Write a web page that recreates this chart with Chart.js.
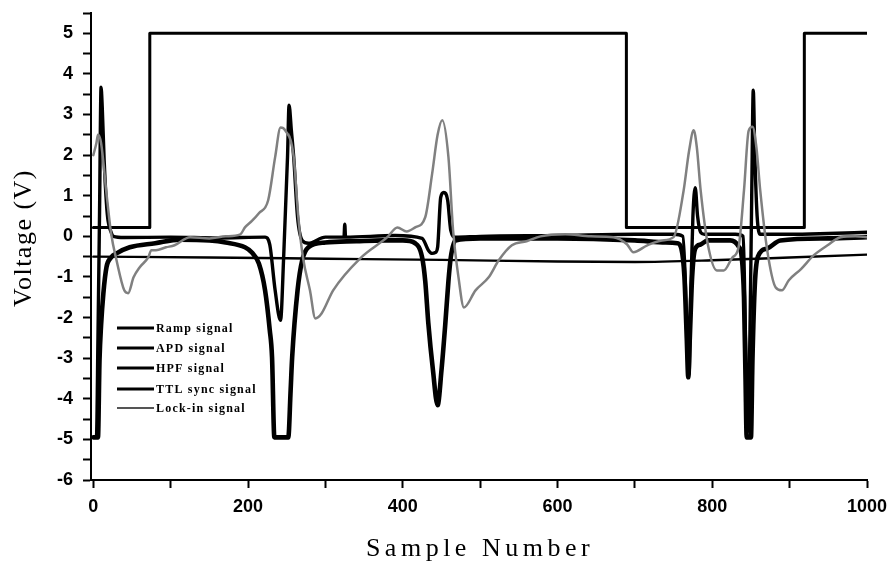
<!DOCTYPE html>
<html>
<head>
<meta charset="utf-8">
<script src="https://cdn.jsdelivr.net/npm/chart.js@4.4.1/dist/chart.umd.min.js"></script>
<style>
html,body{margin:0;padding:0;background:#fff;}
#wrap{width:890px;height:564px;position:relative;}
</style>
</head>
<body>
<div id="wrap"><canvas id="c" width="890" height="564"></canvas></div>
<script>
// ---- data ----
const seriesNames = ['Ramp signal', 'APD signal', 'HPF signal', 'TTL sync signal', 'Lock-in signal'];
const xTitle = 'Sample Number';
const yTitle = 'Voltage (V)';

const xTickValues = [0, 100, 200, 300, 400, 500, 600, 700, 800, 900, 1000];
const xTickLabels = ['0', '', '200', '', '400', '', '600', '', '800', '', '1000'];
const yTickValues = [-6, -5.5, -5, -4.5, -4, -3.5, -3, -2.5, -2, -1.5, -1, -0.5, 0, 0.5, 1, 1.5, 2, 2.5, 3, 3.5, 4, 4.5, 5, 5.5];
const yTickLabels = ['-6', '', '-5', '', '-4', '', '-3', '', '-2', '', '-1', '', '0', '', '1', '', '2', '', '3', '', '4', '', '5', ''];

const rampX = [0, 150, 300, 450, 600, 700, 800, 900, 1000];
const rampY = [-0.50, -0.52, -0.55, -0.58, -0.62, -0.63, -0.59, -0.52, -0.45];

const ttlX = [0, 73, 73, 689, 689, 919, 919, 1000];
const ttlY = [0.22, 0.22, 5, 5, 0.22, 0.22, 5, 5];

const apdX = [0, 6, 8, 10, 13, 17, 23, 30, 47, 80, 112, 150, 171, 196, 205, 214, 222, 228, 231, 234, 252, 255, 257, 264, 270, 278, 300, 340, 375, 400, 416, 425, 429, 433, 439, 445, 450, 455, 459, 462, 468, 500, 600, 700, 740, 755, 760, 764, 767, 769, 771, 774, 778, 785, 794, 823, 834, 838, 841, 843, 844.5, 850, 852, 855, 859, 871, 888, 950, 1000];
const apdY = [-4.95, -4.95, -3.05, -2.2, -1.4, -0.76, -0.52, -0.42, -0.27, -0.17, -0.08, -0.1, -0.15, -0.27, -0.4, -0.67, -1.33, -2.3, -2.98, -4.95, -4.95, -3.8, -2.98, -1.33, -0.59, -0.27, -0.15, -0.12, -0.1, -0.1, -0.17, -0.52, -1.1, -2.14, -3.3, -4.16, -3.3, -2.14, -1.1, -0.52, -0.1, -0.05, -0.05, -0.1, -0.15, -0.17, -0.3, -1.0, -2.5, -3.47, -2.5, -1.0, -0.3, -0.2, -0.1, -0.1, -0.25, -0.5, -1.5, -3.5, -4.95, -4.95, -3.0, -1.2, -0.5, -0.3, -0.1, -0.05, -0.02];

const hpfX = [0, 4, 6, 8, 10, 11.5, 14, 17, 19, 23, 26, 40, 100, 160, 222, 228, 235, 242, 246, 251, 253, 256, 259, 264, 270, 278, 300, 324, 325, 326, 390, 425, 433, 438, 442, 445, 449, 453, 458, 462, 468, 500, 600, 700, 750, 762, 765, 768, 770, 772, 775, 778, 781, 785, 790, 830, 840, 843, 846, 849, 851, 853, 855, 858, 862, 900, 950, 1000];
const hpfY = [-4.95, -4.95, -2.5, 0.5, 3.67, 3.2, 1.87, 0.8, 0.39, 0.1, 0.0, -0.03, -0.02, -0.04, -0.02, -0.2, -1.33, -2.07, -0.52, 1.95, 3.23, 2.6, 1.95, 0.47, -0.1, -0.17, -0.02, -0.02, 0.3, -0.02, 0.02, -0.05, -0.34, -0.42, -0.4, -0.27, 0.96, 1.08, 0.89, 0.15, -0.02, 0.0, 0.02, 0.05, 0.05, 0.0, -1.0, -3.0, -3.4, -1.5, 0.5, 1.2, 0.5, 0.1, 0.05, 0.05, 0.0, -2.5, -4.8, -2.0, 1.0, 3.6, 2.0, 0.5, 0.05, 0.05, 0.07, 0.1];

const lockX = [0, 4, 6, 10, 17, 23, 30, 40, 45, 52, 60, 71, 75, 81, 94, 105, 125, 150, 171, 190, 196, 205, 214, 226, 235, 242, 248, 259, 265, 271, 280, 287, 295, 310, 345, 380, 393, 405, 416, 429, 438, 445, 451, 459, 465, 472, 479, 494, 511, 524, 541, 560, 578, 610, 643, 672, 690, 698, 716, 735, 750, 763, 770, 776, 780, 785, 794, 806, 815, 826, 834, 841, 847, 852, 857, 862, 871, 882, 890, 899, 915, 931, 949, 966, 985, 1000];
const lockY = [2.0, 2.3, 2.5, 2.3, 1.06, 0.07, -0.59, -1.33, -1.40, -1.01, -0.76, -0.52, -0.34, -0.34, -0.27, -0.22, -0.02, -0.05, 0.0, 0.05, 0.22, 0.38, 0.57, 0.89, 1.95, 2.68, 2.61, 1.95, 0.47, -0.52, -1.33, -2.02, -1.90, -1.33, -0.54, -0.02, 0.22, 0.12, 0.22, 0.47, 1.55, 2.5, 2.86, 1.95, 0.15, -1.01, -1.75, -1.33, -1.01, -0.59, -0.22, -0.12, 0.0, 0.05, 0.0, -0.02, -0.2, -0.39, -0.22, -0.1, -0.02, 1.13, 2.1, 2.61, 2.2, 1.13, -0.17, -0.84, -0.84, -0.52, -0.27, 1.13, 2.6, 2.7, 2.2, 1.13, -0.34, -1.26, -1.33, -1.08, -0.8, -0.47, -0.22, -0.02, 0.0, -0.02];

// ---- build ----
const pts = (xs, ys) => xs.map((x, i) => ({x: x, y: ys[i]}));

const datasets = [
  {label: seriesNames[0], data: pts(rampX, rampY), borderColor: '#000', borderWidth: 2.4, order: 3, cubicInterpolationMode: 'monotone'},
  {label: seriesNames[1], data: pts(apdX, apdY), borderColor: '#000', borderWidth: 4.6, order: 2, cubicInterpolationMode: 'monotone'},
  {label: seriesNames[2], data: pts(hpfX, hpfY), borderColor: '#000', borderWidth: 3.4, order: 1, cubicInterpolationMode: 'monotone'},
  {label: seriesNames[3], data: pts(ttlX, ttlY), borderColor: '#000', borderWidth: 3, order: 4, tension: 0},
  {label: seriesNames[4], data: pts(lockX, lockY), borderColor: '#808080', borderWidth: 2.5, order: 0, cubicInterpolationMode: 'monotone'}
];

const legendInside = {
  id: 'legendInside',
  afterDatasetsDraw(chart) {
    const ctx = chart.ctx;
    ctx.save();
    const rows = [328, 348, 368, 389, 408];
    chart.data.datasets.forEach((ds, i) => {
      const y = rows[i];
      ctx.strokeStyle = i === 4 ? '#555' : ds.borderColor;
      ctx.lineWidth = i === 4 ? 2 : 3;
      ctx.beginPath();
      ctx.moveTo(117, y);
      ctx.lineTo(154, y);
      ctx.stroke();
      ctx.fillStyle = '#000';
      ctx.font = 'bold 12px "Liberation Serif"';
      ctx.letterSpacing = '1.2px';
      ctx.textAlign = 'left';
      ctx.textBaseline = 'middle';
      ctx.fillText(ds.label, 156, y + 1);
    });
    ctx.restore();
  }
};

const axisTitles = {
  id: 'axisTitles',
  afterDraw(chart) {
    const ctx = chart.ctx;
    ctx.save();
    ctx.fillStyle = '#000';
    ctx.font = '26px "Liberation Serif"';
    ctx.textAlign = 'center';
    ctx.textBaseline = 'alphabetic';
    ctx.letterSpacing = '4.5px';
    ctx.fillText(xTitle, 480, 556);
    ctx.translate(31, 238);
    ctx.rotate(-Math.PI / 2);
    ctx.letterSpacing = '1.5px';
    ctx.fillText(yTitle, 0, 0);
    ctx.restore();
  }
};

new Chart(document.getElementById('c'), {
  type: 'line',
  data: {datasets: datasets},
  options: {
    responsive: false,
    animation: false,
    devicePixelRatio: 1,
    layout: {padding: {top: 13, right: 23, left: 0, bottom: 0}},
    elements: {point: {radius: 0}, line: {borderCapStyle: 'round', borderJoinStyle: 'round'}},
    plugins: {legend: {display: false}, tooltip: {enabled: false}},
    scales: {
      x: {
        type: 'linear', min: -3, max: 1000,
        afterBuildTicks: s => { s.ticks = xTickValues.map(v => ({value: v})); },
        afterFit: s => { s.height = 84; s.paddingLeft = 0; s.paddingRight = 0; },
        ticks: {
          autoSkip: false, maxRotation: 0, padding: 8, color: '#000',
          font: {family: '"Liberation Sans"', size: 18, weight: 'bold'},
          callback: v => { const k = xTickValues.indexOf(v); return k >= 0 ? xTickLabels[k] : ''; }
        },
        grid: {display: true, drawOnChartArea: false, drawTicks: true, tickLength: 8, tickWidth: 2, tickColor: '#000'},
        border: {display: true, color: '#000', width: 2}
      },
      y: {
        type: 'linear', min: -6, max: 5.5,
        afterBuildTicks: s => { s.ticks = yTickValues.map(v => ({value: v})); },
        afterFit: s => { s.width = 91; s.paddingTop = 0; s.paddingBottom = 0; },
        ticks: {
          autoSkip: false, padding: 10, color: '#000',
          font: {family: '"Liberation Sans"', size: 18, weight: 'bold'},
          callback: v => { const k = yTickValues.indexOf(v); return k >= 0 ? yTickLabels[k] : ''; }
        },
        grid: {display: true, drawOnChartArea: false, drawTicks: true, tickLength: 8, tickWidth: 2, tickColor: '#000'},
        border: {display: true, color: '#000', width: 2}
      }
    }
  },
  plugins: [legendInside, axisTitles]
});
</script>
</body>
</html>
